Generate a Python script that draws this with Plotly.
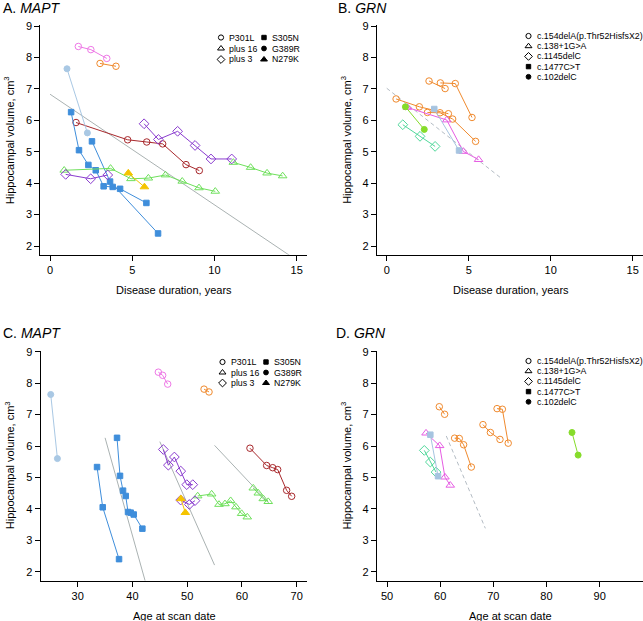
import plotly.graph_objects as go

W, H = 643, 621

# ---------------- DATA ----------------
# MAPT subjects: disease duration (years), age at scan, hippocampal volume (cm3)
MAPT_MUTATION = ["P301L", "P301L", "P301L", "G389R", "S305N", "S305N",
                 "plus 16", "plus 16", "plus 3", "plus 3", "N279K"]
MAPT_DURATION = [
    [1.72, 2.48, 3.45],
    [3.04, 4.01],
    [1.58, 4.72, 5.88, 6.85, 8.27, 9.08],
    [1.03, 2.27],
    [1.28, 1.76, 2.33, 2.78, 3.26, 3.81, 4.26, 5.86],
    [2.55, 3.65, 6.57],
    [0.86, 3.68, 4.92, 5.98, 7.02, 8.04, 9.06, 10.05],
    [11.15, 12.2, 13.2, 14.15],
    [5.72, 6.59, 7.76, 8.82, 9.79, 11.05],
    [0.95, 2.47, 3.51],
    [4.76, 5.74],
]
MAPT_AGE = [
    [44.73, 45.52, 46.44],
    [53.08, 53.99],
    [61.47, 64.52, 65.62, 66.53, 68.17, 69.09],
    [25.07, 26.29],
    [37.18, 37.73, 38.28, 38.77, 39.19, 39.68, 40.23, 41.81],
    [33.53, 34.57, 37.55],
    [51.92, 54.47, 55.81, 56.9, 57.94, 58.91, 59.95, 60.98],
    [62.07, 62.99, 63.9, 64.81],
    [45.64, 46.56, 47.66, 48.83, 49.92, 51.02],
    [48.81, 50.39, 51.42],
    [48.85, 49.66],
]
MAPT_VOLUME = [
    [8.35, 8.25, 7.97],
    [7.81, 7.72],
    [5.93, 5.38, 5.31, 5.25, 4.59, 4.40],
    [7.64, 5.60],
    [6.26, 5.05, 4.58, 4.41, 3.90, 3.88, 3.82, 3.37],
    [5.33, 4.05, 2.40],
    [4.41, 4.47, 4.14, 4.16, 4.26, 4.06, 3.85, 3.74],
    [4.66, 4.50, 4.32, 4.23],
    [5.89, 5.39, 5.65, 5.20, 4.77, 4.77],
    [4.28, 4.14, 4.26],
    [4.32, 3.88],
]

GRN_MUTATION = ["c.154delA(p.Thr52HisfsX2)"] * 4 + ["c.138+1G>A", "c.1145delC", "c.1477C>T", "c.102delC"]
GRN_DURATION = [
    [2.58, 3.56],
    [3.27, 4.18, 5.20],
    [0.57, 1.99, 3.76],
    [2.48, 3.25, 4.02, 5.42],
    [1.26, 3.66, 4.67, 5.60],
    [0.98, 2.03, 2.95],
    [2.90, 4.41],
    [1.14, 2.29],
]
GRN_AGE = [
    [59.84, 60.84],
    [70.7, 71.7, 72.8],
    [68.05, 69.45, 71.25],
    [62.72, 63.6, 64.41, 65.86],
    [57.34, 59.9, 60.9, 61.9],
    [57.02, 58.15, 59.22],
    [58.15, 59.6],
    [84.8, 85.95],
]
GRN_VOLUME = [
    [7.25, 7.01],
    [7.19, 7.17, 6.09],
    [6.68, 6.43, 6.21],
    [6.25, 6.24, 6.04, 5.33],
    [6.41, 6.01, 5.01, 4.75],
    [5.86, 5.49, 5.17],
    [6.36, 5.04],
    [6.43, 5.71],
]

# group-level fitted lines: (x_start, x_end, value at x_start, slope)
MAPT_DUR_FIT = [(0.0, 15.0, 6.83, -0.352)]
MAPT_AGE_FIT = [(35.0, 45.0, 6.26, -0.622), (45.0, 55.0, 6.14, -0.393), (55.0, 65.0, 6.02, -0.185)]
GRN_DUR_FIT = [(0.0, 7.0, 7.02, -0.41)]
GRN_AGE_FIT = [(61.15, 68.5, 6.32, -0.40)]

MAPT_LEGEND = [["P301L", "plus 16", "plus 3"], ["S305N", "G389R", "N279K"]]
GRN_LEGEND = ["c.154delA(p.Thr52HisfsX2)", "c.138+1G>A", "c.1145delC", "c.1477C>T", "c.102delC"]

X_TICKS_DUR = [0, 5, 10, 15]
X_TICKS_AGE_MAPT = [30, 40, 50, 60, 70]
X_TICKS_AGE_GRN = [50, 60, 70, 80, 90]
Y_TICKS = [2, 3, 4, 5, 6, 7, 8, 9]

# ---------------- STYLE ----------------
SYMBOL = {"P301L": "circle-open", "plus 16": "triangle-up-open", "plus 3": "diamond-open",
          "S305N": "square", "G389R": "circle", "N279K": "triangle-up",
          "c.154delA(p.Thr52HisfsX2)": "circle-open", "c.138+1G>A": "triangle-up-open",
          "c.1145delC": "diamond-open", "c.1477C>T": "square", "c.102delC": "circle"}
SIZE = {"circle-open": 6.5, "triangle-up-open": 7.5, "diamond-open": 7.5,
        "square": 5.5, "circle": 6, "triangle-up": 7.5}
MAPT_COLORS = ["#EE78E6", "#F08A2E", "#A8282C", "#A9C8E4", "#3F8EDB", "#3F8EDB",
               "#6FE05C", "#6FE05C", "#8A3CCF", "#8A3CCF", "#F5C400"]
GRN_COLORS = ["#F08A2E", "#F08A2E", "#F08A2E", "#F08A2E", "#E65CE3", "#4FD89A", "#A6C4E0", "#86DC2A"]

FONT = "Liberation Sans, Arial, Helvetica, sans-serif"
fig = go.Figure()

# panel geometry in pixels
PANELS = {
    "A": dict(x=(40.2, 306.5), y=(25.1, 254.8), xr=[-0.6, 15.6], xt=X_TICKS_DUR),
    "B": dict(x=(376.9, 642.5), y=(25.1, 254.8), xr=[-0.6, 15.6], xt=X_TICKS_DUR),
    "C": dict(x=(40.5, 306.5), y=(350.8, 580.5), xr=[23.2, 71.8], xt=X_TICKS_AGE_MAPT),
    "D": dict(x=(376.9, 642.5), y=(350.8, 580.5), xr=[48.1, 98.06], xt=X_TICKS_AGE_GRN),
}
AX = {"A": ("x", "y"), "B": ("x2", "y2"), "C": ("x3", "y3"), "D": ("x4", "y4")}

layout_axes = {}
for i, (k, p) in enumerate(PANELS.items()):
    n = "" if i == 0 else str(i + 1)
    layout_axes["xaxis" + n] = dict(
        domain=[p["x"][0] / W, p["x"][1] / W], range=p["xr"], tickvals=p["xt"],
        showline=True, linecolor="black", linewidth=1, ticks="outside", ticklen=5,
        tickcolor="black", tickwidth=1, showgrid=False, zeroline=False, automargin=False,
        tickfont=dict(family=FONT, size=11, color="black"), anchor="y" + n)
    layout_axes["yaxis" + n] = dict(
        domain=[1 - p["y"][1] / H, 1 - p["y"][0] / H], range=[1.72, 9.03], tickvals=Y_TICKS,
        showline=True, linecolor="black", linewidth=1, ticks="outside", ticklen=5,
        tickcolor="black", tickwidth=1, showgrid=False, zeroline=False, automargin=False,
        tickfont=dict(family=FONT, size=11, color="black"), anchor="x" + n)


def add_fits(fits, ax, color, dash):
    for x0, x1, y0, s in fits:
        fig.add_trace(go.Scatter(x=[x0, x1], y=[y0, y0 + s * (x1 - x0)], mode="lines",
                                 line=dict(color=color, width=1, dash=dash),
                                 xaxis=ax[0], yaxis=ax[1], showlegend=False, hoverinfo="skip"))


def add_subjects(xs, vols, muts, colors, ax):
    for x, v, m, c in zip(xs, vols, muts, colors):
        sym = SYMBOL[m]
        fig.add_trace(go.Scatter(x=x, y=v, mode="lines+markers",
                                 line=dict(color=c, width=1),
                                 marker=dict(symbol=sym, size=SIZE[sym], color=c,
                                             line=dict(color=c, width=1)),
                                 xaxis=ax[0], yaxis=ax[1], showlegend=False, name=m))


add_fits(MAPT_DUR_FIT, AX["A"], "#AAB2B2", None)
add_subjects(MAPT_DURATION, MAPT_VOLUME, MAPT_MUTATION, MAPT_COLORS, AX["A"])
add_fits(GRN_DUR_FIT, AX["B"], "#B4BCC4", "4px,3px")
add_subjects(GRN_DURATION, GRN_VOLUME, GRN_MUTATION, GRN_COLORS, AX["B"])
add_fits(MAPT_AGE_FIT, AX["C"], "#AAB2B2", None)
add_subjects(MAPT_AGE, MAPT_VOLUME, MAPT_MUTATION, MAPT_COLORS, AX["C"])
add_fits(GRN_AGE_FIT, AX["D"], "#B4BCC4", "4px,3px")
add_subjects(GRN_AGE, GRN_VOLUME, GRN_MUTATION, GRN_COLORS, AX["D"])

# overlay axis in pixel coordinates for legend keys
layout_axes["xaxis5"] = dict(domain=[0, 1], range=[0, W], visible=False, fixedrange=True, automargin=False)
layout_axes["yaxis5"] = dict(domain=[0, 1], range=[H, 0], visible=False, fixedrange=True, automargin=False)

annotations = []
LEG_FS = 8.8


def legend_block(labels, sym_x, text_x, y0, dy):
    for j, lab in enumerate(labels):
        y = y0 + j * dy
        sym = SYMBOL[lab]
        fig.add_trace(go.Scatter(x=[sym_x], y=[y], mode="markers",
                                 marker=dict(symbol=sym, size=SIZE[sym] * 0.8, color="black",
                                             line=dict(color="black", width=1)),
                                 xaxis="x5", yaxis="y5", showlegend=False, hoverinfo="skip"))
        annotations.append(dict(x=text_x / W, y=1 - y / H, xref="paper", yref="paper",
                                text=lab, showarrow=False, xanchor="left", yanchor="middle",
                                font=dict(family=FONT, size=LEG_FS, color="black")))


legend_block(MAPT_LEGEND[0], 221, 227, 37.5, 11)
legend_block(MAPT_LEGEND[1], 264, 270, 37.5, 11)
legend_block(MAPT_LEGEND[0], 222.5, 228.5, 362, 10.5)
legend_block(MAPT_LEGEND[1], 266, 272, 362, 10.5)
legend_block(GRN_LEGEND, 528.5, 534.5, 36, 10.2)
legend_block(GRN_LEGEND, 528.5, 534.5, 361, 10.2)

# titles and axis titles
def text(x, y, s, size=11, anchor="center", angle=0):
    annotations.append(dict(x=x / W, y=1 - y / H, xref="paper", yref="paper", text=s,
                            showarrow=False, xanchor=anchor, yanchor="middle", textangle=angle,
                            font=dict(family=FONT, size=size, color="black")))

text(1, 8, "A. <i>MAPT</i>", 14, "left")
text(336, 8, "B. <i>GRN</i>", 14, "left")
text(1, 333, "C. <i>MAPT</i>", 14, "left")
text(334, 333, "D. <i>GRN</i>", 14, "left")
for k, t in [("A", "Disease duration, years"), ("B", "Disease duration, years"),
             ("C", "Age at scan date"), ("D", "Age at scan date")]:
    p = PANELS[k]
    text((p["x"][0] + p["x"][1]) / 2 + 1, p["y"][1] + 35, t, 11)
    text(p["x"][0] - 31, (p["y"][0] + p["y"][1]) / 2, "Hippocampal volume, cm<sup>3</sup>", 11, "center", -90)

fig.update_layout(width=W, height=H, margin=dict(l=0, r=0, t=0, b=0),
                  paper_bgcolor="white", plot_bgcolor="rgba(0,0,0,0)",
                  showlegend=False, annotations=annotations, **layout_axes)

fig.write_html("out.html", config={"displayModeBar": False, "staticPlot": True},
               post_script="document.body.style.margin='0';document.body.style.overflow='hidden';")
